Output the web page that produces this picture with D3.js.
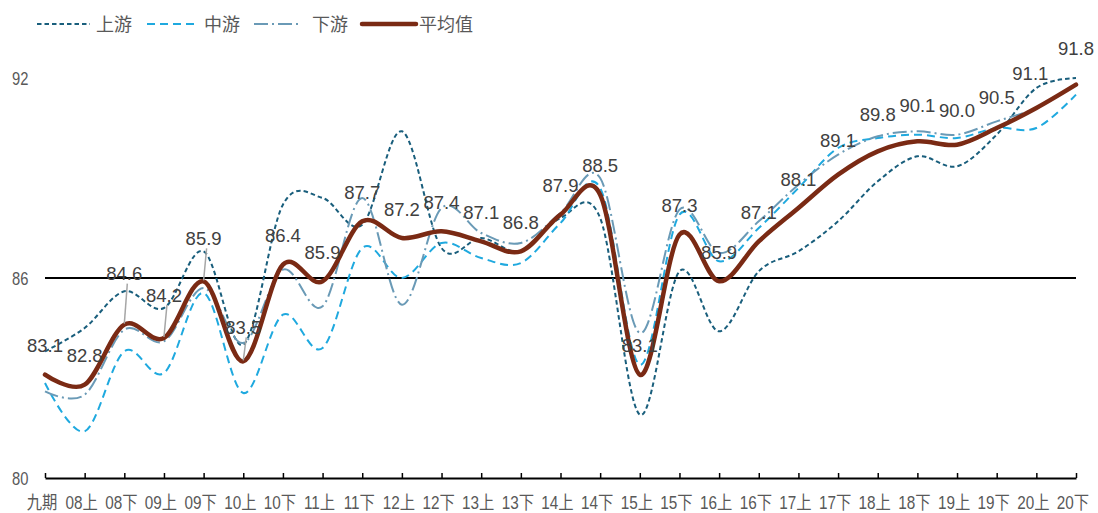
<!DOCTYPE html>
<html><head><meta charset="utf-8">
<script src="https://cdn.jsdelivr.net/npm/d3@7/dist/d3.min.js"></script>
<style>
html,body{margin:0;padding:0;background:#fff;}
svg{display:block;font-family:"Liberation Sans",Arial,"Noto Sans CJK SC",sans-serif;}
</style></head>
<body><svg id="chart" width="1098" height="513"></svg>
<script>
const categories = ["九期","08上","08下","09上","09下","10上","10下","11上","11下","12上","12下","13上","13下","14上","14下","15上","15下","16上","16下","17上","17下","18上","18下","19上","19下","20上","20下"];
const upstream   = [83.8,84.5,85.6,85.1,86.8,84.0,88.2,88.4,87.6,90.4,86.9,87.2,86.8,87.8,87.8,81.9,86.2,84.4,86.2,86.8,87.7,88.9,89.65,89.35,90.3,91.7,92.0];
const midstream  = [82.85,81.4,83.8,83.15,85.55,82.55,84.9,83.9,86.9,86.0,87.05,86.6,86.45,87.65,88.7,83.4,87.9,86.5,87.5,88.7,89.9,90.2,90.3,90.2,90.5,90.5,91.5];
const downstream = [82.6,82.5,84.45,84.1,85.7,84.05,86.25,85.15,88.4,85.2,88.1,87.35,87.05,87.95,89.0,84.35,88.05,86.75,87.7,88.8,89.7,90.25,90.4,90.3,90.7,91.1,91.8];
const average    = [83.1,82.8,84.6,84.2,85.9,83.5,86.4,85.9,87.7,87.2,87.4,87.1,86.8,87.9,88.5,83.1,87.3,85.9,87.1,88.1,89.1,89.8,90.1,90.0,90.5,91.1,91.8];
const yTicks = [80,86,92];
const seriesNames = ["上游","中游","下游","平均值"];

// layout
const svg = d3.select("#chart");
const x = d3.scalePoint().domain(categories).range([45,1076]);
const y = d3.scaleLinear().domain([80,92]).range([478,78]);

const styles = [
  {data: upstream,   color:"#195E7C", width:2,   dash:"4.5,3"},
  {data: midstream,  color:"#1FA9DF", width:2,   dash:"8,5"},
  {data: downstream, color:"#6A9AB6", width:2,   dash:"14,4,2,4"},
  {data: average,    color:"#7A2A14", width:4.5, dash:null}
];

// 86 reference line
svg.append("line").attr("x1",x(categories[0])).attr("x2",x(categories[categories.length-1]))
  .attr("y1",y(86)).attr("y2",y(86)).attr("stroke","#000").attr("stroke-width",2);

// x axis
const xAxis = d3.axisBottom(x).tickSizeInner(-5).tickSizeOuter(0).tickFormat("");
const gx = svg.append("g").attr("transform",`translate(0,${y(80)})`).call(xAxis);
gx.select(".domain").attr("stroke","#000").attr("stroke-width",2);
gx.selectAll(".tick line").attr("stroke","#000").attr("stroke-width",1.5);

// x labels (slightly condensed)
svg.append("g").selectAll("text").data(categories).join("text")
  .attr("transform",d=>`translate(${x(d) - 3},${y(80)+31}) scale(0.85,1)`)
  .attr("text-anchor","middle").attr("font-size",18).attr("fill","#595959").text(d=>d);

// y labels
svg.append("g").selectAll("text").data(yTicks).join("text")
  .attr("transform",d=>`translate(12,${y(d)+6.5}) scale(0.82,1)`)
  .attr("font-size",18).attr("fill","#595959").text(d=>d);

// lines
const line = d3.line().x((d,i)=>x(categories[i])).y(d=>y(d)).curve(d3.curveCardinal.tension(0));
styles.forEach(s=>{
  svg.append("path").datum(s.data).attr("d",line).attr("fill","none")
    .attr("stroke",s.color).attr("stroke-width",s.width)
    .attr("stroke-dasharray",s.dash).attr("stroke-linejoin","round").attr("stroke-linecap", s.dash? "butt":"round");
});

// data labels for average
const labelDy = {2:-51,3:-43,4:-43,5:-34,20:-34,21:-37,22:-36,23:-34,24:-31,25:-35,26:-36};
const leaders = new Set([2,3,4,5]);
const lg = svg.append("g");
average.forEach((v,i)=>{
  const px = x(categories[i]), py = y(v);
  const dy = labelDy[i] !== undefined ? labelDy[i] : -29;
  const cx = px + (i===25?-6:0);
  if (leaders.has(i)) {
    lg.append("line").attr("x1",px+3).attr("y1",py+dy+10).attr("x2",px).attr("y2",py-1)
      .attr("stroke","#A6A6A6").attr("stroke-width",1.5);
  }
  lg.append("text").attr("x",cx).attr("y",py+dy+6.5).attr("text-anchor","middle")
    .attr("font-size",18.5).attr("fill","#404040").text(v.toFixed(1));
});

// legend
const legendItems = [
  {name:seriesNames[0], s:styles[0], x0:37, x1:90, tx:96},
  {name:seriesNames[1], s:styles[1], x0:147, x1:196, tx:204},
  {name:seriesNames[2], s:styles[2], x0:254, x1:300, tx:312},
  {name:seriesNames[3], s:styles[3], x0:362, x1:416, tx:419}
];
const leg = svg.append("g");
legendItems.forEach(it=>{
  leg.append("line").attr("x1",it.x0).attr("x2",it.x1).attr("y1",24).attr("y2",24)
    .attr("stroke",it.s.color).attr("stroke-width",it.s.width)
    .attr("stroke-dasharray",it.s.dash).attr("stroke-linecap", it.s.dash? "butt":"round");
  leg.append("text").attr("x",it.tx).attr("y",31).attr("font-size",18)
    .attr("fill","#595959").text(it.name);
});
</script></body></html>
